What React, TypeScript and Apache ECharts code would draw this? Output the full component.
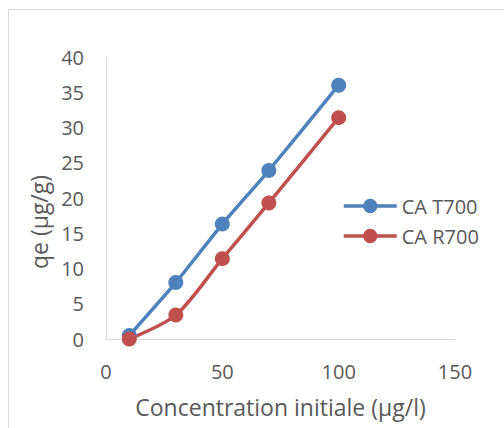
import React, { useEffect, useRef } from "react";
import * as echarts from "echarts";

const concentrations = [10, 30, 50, 70, 100];
const caT700 = [0.5, 8.0, 16.3, 23.9, 36.0];
const caR700 = [0.0, 3.4, 11.4, 19.3, 31.4];
const seriesNames = ["CA T700", "CA R700"];
const seriesColors = ["#4F81BD", "#C0504D"];

const FONT = "'Open Sans', 'Noto Sans', sans-serif";
const TEXT = "#595959";
const TICK_SIZE = 20;
const TITLE_SIZE = 23;

export default function App() {
  const ref = useRef<HTMLDivElement>(null);

  useEffect(() => {
    if (!ref.current) return;
    const chart = echarts.init(ref.current, null, { renderer: "svg" });
    const pair = (ys: number[]) => concentrations.map((x, i) => [x, ys[i]]);
    chart.setOption({
      animation: false,
      backgroundColor: "#ffffff",
      textStyle: { fontFamily: FONT, color: TEXT },
      grid: { left: 106, top: 57, right: 49, bottom: 89, containLabel: false },
      legend: {
        orient: "vertical",
        left: 337,
        top: 191,
        itemWidth: 53,
        itemHeight: 18,
        itemGap: 10,
        lineStyle: { width: 3.5 },
        textStyle: { fontFamily: FONT, fontSize: TICK_SIZE, color: TEXT },
        data: seriesNames,
      },
      xAxis: {
        type: "value",
        min: 0,
        max: 150,
        interval: 50,
        name: "Concentration initiale (µg/l)",
        nameLocation: "middle",
        nameGap: 56,
        nameTextStyle: { fontFamily: FONT, fontSize: TITLE_SIZE, color: TEXT },
        axisLine: { show: true, lineStyle: { color: "#d9d9d9", width: 1 } },
        axisTick: { show: false },
        splitLine: { show: false },
        axisLabel: { fontFamily: FONT, fontSize: TICK_SIZE, color: TEXT, margin: 22 },
      },
      yAxis: {
        type: "value",
        min: 0,
        max: 40,
        interval: 5,
        name: "qe (µg/g)",
        nameLocation: "middle",
        nameGap: 52,
        nameTextStyle: {
          fontFamily: FONT,
          fontSize: TITLE_SIZE,
          color: TEXT,
          padding: [0, 48, 0, 0],
        },
        axisLine: { show: true, lineStyle: { color: "#d9d9d9", width: 1 } },
        axisTick: { show: false },
        splitLine: { show: false },
        axisLabel: { fontFamily: FONT, fontSize: TICK_SIZE, color: TEXT, margin: 22 },
      },
      graphic: [
        {
          type: "rect",
          shape: { x: 8.5, y: 9.5, width: 600, height: 600 },
          style: { fill: "none", stroke: "#d9d9d9", lineWidth: 1 },
          silent: true,
        },
      ],
      series: [
        {
          name: seriesNames[0],
          type: "line",
          data: pair(caT700),
          smooth: 0.15,
          symbol: "circle",
          symbolSize: 15,
          color: seriesColors[0],
          lineStyle: { width: 3.5, color: seriesColors[0] },
          itemStyle: { color: seriesColors[0] },
        },
        {
          name: seriesNames[1],
          type: "line",
          data: pair(caR700),
          smooth: 0.3,
          symbol: "circle",
          symbolSize: 15,
          color: seriesColors[1],
          lineStyle: { width: 3.5, color: seriesColors[1] },
          itemStyle: { color: seriesColors[1] },
        },
      ],
    });
    return () => chart.dispose();
  }, []);

  return (
    <div
      ref={ref}
      style={{ position: "fixed", left: 0, top: 0, width: 504, height: 428 }}
    />
  );
}
